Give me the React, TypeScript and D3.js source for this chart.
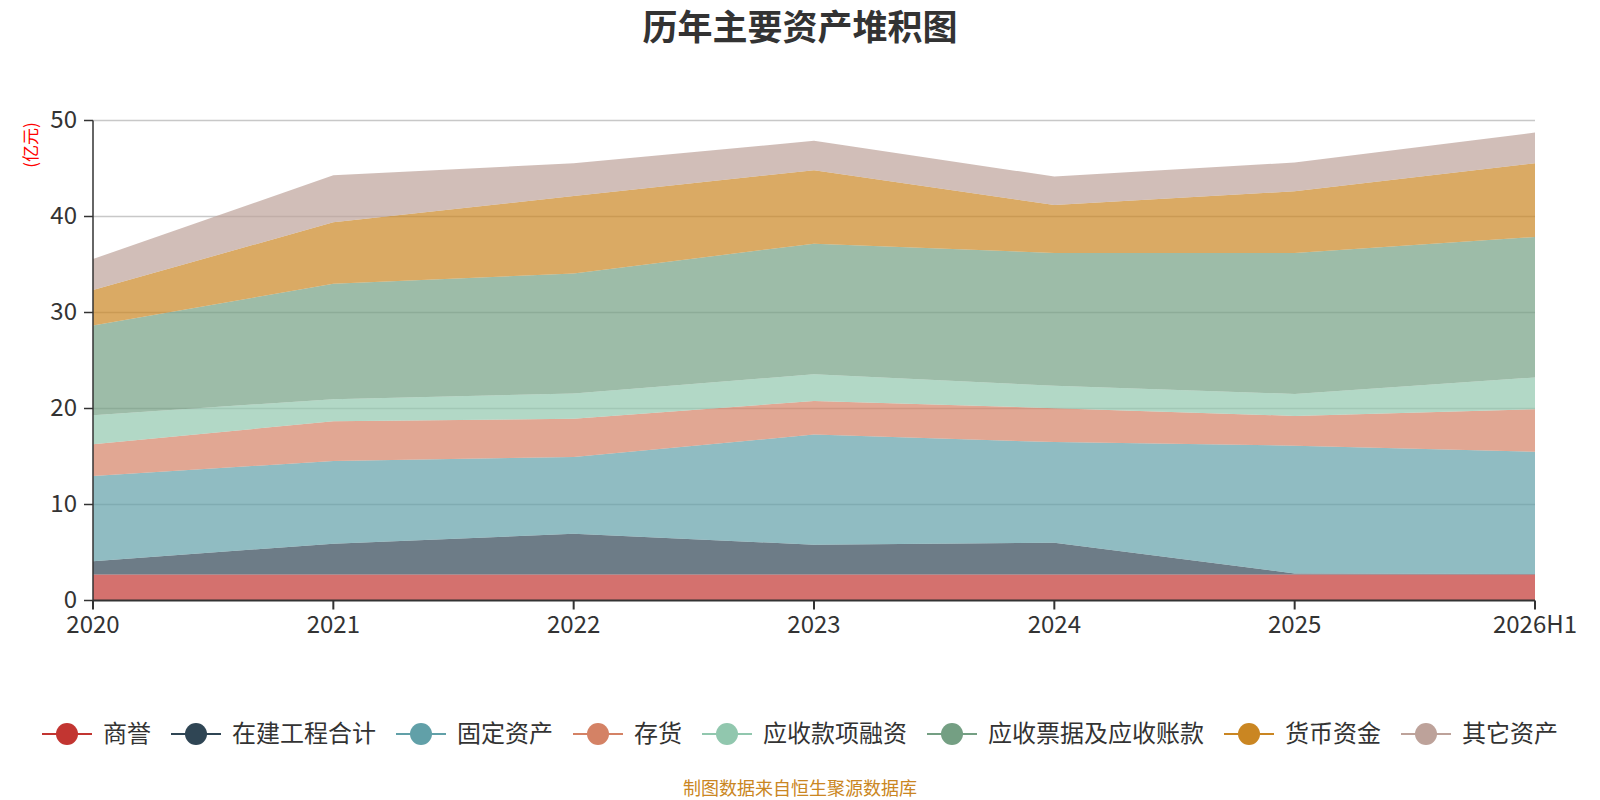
import { useMemo } from 'react';
import * as d3 from 'd3';

const WIDTH = 1600;
const HEIGHT = 800;
const MARGIN = { top: 120.5, right: 65, bottom: 199.5, left: 93 };
const FONT = '"Noto Sans CJK SC", "Noto Sans", sans-serif';

const periods = ['2020', '2021', '2022', '2023', '2024', '2025', '2026H1'];
const seriesNames = ['商誉', '在建工程合计', '固定资产', '存货', '应收款项融资', '应收票据及应收账款', '货币资金', '其它资产'];
const seriesColors = ['#c23531', '#2f4554', '#61a0a8', '#d48265', '#91c7ae', '#749f83', '#ca8622', '#bda29a'];

// values in 亿元
const goodwill = [2.71, 2.71, 2.71, 2.71, 2.71, 2.71, 2.71];
const construction = [1.39, 3.2, 4.24, 3.1, 3.31, 0.1, 0.05];
const fixedAssets = [8.87, 8.62, 8.0, 11.47, 10.48, 13.32, 12.74];
const inventory = [3.3, 4.14, 3.97, 3.51, 3.53, 3.1, 4.42];
const receivableFinancing = [3.03, 2.3, 2.64, 2.78, 2.33, 2.29, 3.31];
const receivables = [9.35, 12.03, 12.51, 13.6, 13.84, 14.68, 14.64];
const cash = [3.69, 6.4, 8.07, 7.65, 5.0, 6.43, 7.68];
const otherAssets = [3.23, 4.9, 3.41, 3.06, 2.96, 2.99, 3.2];

const yTicks = [0, 10, 20, 30, 40, 50];

const allSeries = [goodwill, construction, fixedAssets, inventory, receivableFinancing, receivables, cash, otherAssets];

export default function App() {
    const boundsWidth = WIDTH - MARGIN.left - MARGIN.right;
    const boundsHeight = HEIGHT - MARGIN.top - MARGIN.bottom;

    const rows = periods.map((p, i) => {
        const row: Record<string, number | string> = { period: p };
        seriesNames.forEach((name, s) => {
            row[name] = allSeries[s][i];
        });
        return row;
    });

    const stacked = useMemo(() => d3.stack<any>().keys(seriesNames)(rows), []);

    const xScale = d3.scalePoint().domain(periods).range([0, boundsWidth]);
    const yScale = d3.scaleLinear().domain([0, 50]).range([boundsHeight, 0]);

    const area = d3
        .area<any>()
        .x((d) => xScale(d.data.period) ?? 0)
        .y0((d) => yScale(d[0]))
        .y1((d) => yScale(d[1]));

    // legend layout, centred
    const charW = 24;
    const textWidths = seriesNames.map((n) => n.length * charW);
    const itemWidths = textWidths.map((w) => 50 + 11 + w);
    const gap = 20;
    const totalLegend = d3.sum(itemWidths) + gap * (itemWidths.length - 1);
    let cursor = WIDTH / 2 - totalLegend / 2;
    const legendItems = seriesNames.map((n, i) => {
        const x = cursor;
        cursor += itemWidths[i] + gap;
        return { name: n, x, color: seriesColors[i] };
    });
    const legendY = 734;

    return (
        <svg
            width={WIDTH}
            height={HEIGHT}
            style={{ position: 'absolute', left: 0, top: 0, display: 'block', fontFamily: FONT }}
        >
            <rect width={WIDTH} height={HEIGHT} fill="#fff" />
            <text x={WIDTH / 2} y={40} textAnchor="middle" fontSize={35} fontWeight="bold" fill="#333">
                历年主要资产堆积图
            </text>
            <text transform={`translate(37, 145) rotate(-90)`} textAnchor="middle" fontSize={17} fill="#ff0000">
                (亿元)
            </text>

            <g transform={`translate(${MARGIN.left},${MARGIN.top})`}>
                {/* grid */}
                {yTicks.slice(1).map((t) => (
                    <line key={t} x1={0} x2={boundsWidth} y1={yScale(t)} y2={yScale(t)} stroke="#c8c8c8" strokeWidth={1.5} />
                ))}

                {stacked.map((layer, i) => (
                    <path key={seriesNames[i]} d={area(layer) ?? ''} fill={seriesColors[i]} fillOpacity={0.7} />
                ))}

                {/* y axis */}
                <line x1={0} x2={0} y1={0} y2={boundsHeight} stroke="#333" strokeWidth={1.5} />
                {yTicks.map((t) => (
                    <g key={t} transform={`translate(0,${yScale(t)})`}>
                        <line x1={-9} x2={0} stroke="#333" strokeWidth={1.5} />
                        <text x={-16} dy="0.3em" textAnchor="end" fontSize={24} fill="#333">
                            {t}
                        </text>
                    </g>
                ))}

                {/* x axis */}
                <line x1={0} x2={boundsWidth} y1={boundsHeight} y2={boundsHeight} stroke="#333" strokeWidth={2} />
                {periods.map((p) => (
                    <g key={p} transform={`translate(${xScale(p)},${boundsHeight})`}>
                        <line y1={0} y2={9} stroke="#333" strokeWidth={2} />
                        <text y={24} dy="0.35em" textAnchor="middle" fontSize={24} fill="#333">
                            {p}
                        </text>
                    </g>
                ))}
            </g>

            {/* legend */}
            {legendItems.map((it) => (
                <g key={it.name} transform={`translate(${it.x},${legendY})`}>
                    <line x1={0} x2={50} stroke={it.color} strokeWidth={2} />
                    <circle cx={25} cy={0} r={11} fill={it.color} />
                    <text x={61} dy="0.35em" fontSize={24} fill="#333">
                        {it.name}
                    </text>
                </g>
            ))}

            <text x={WIDTH / 2} y={795} textAnchor="middle" fontSize={18} fill="#ca8622">
                制图数据来自恒生聚源数据库
            </text>
        </svg>
    );
}
